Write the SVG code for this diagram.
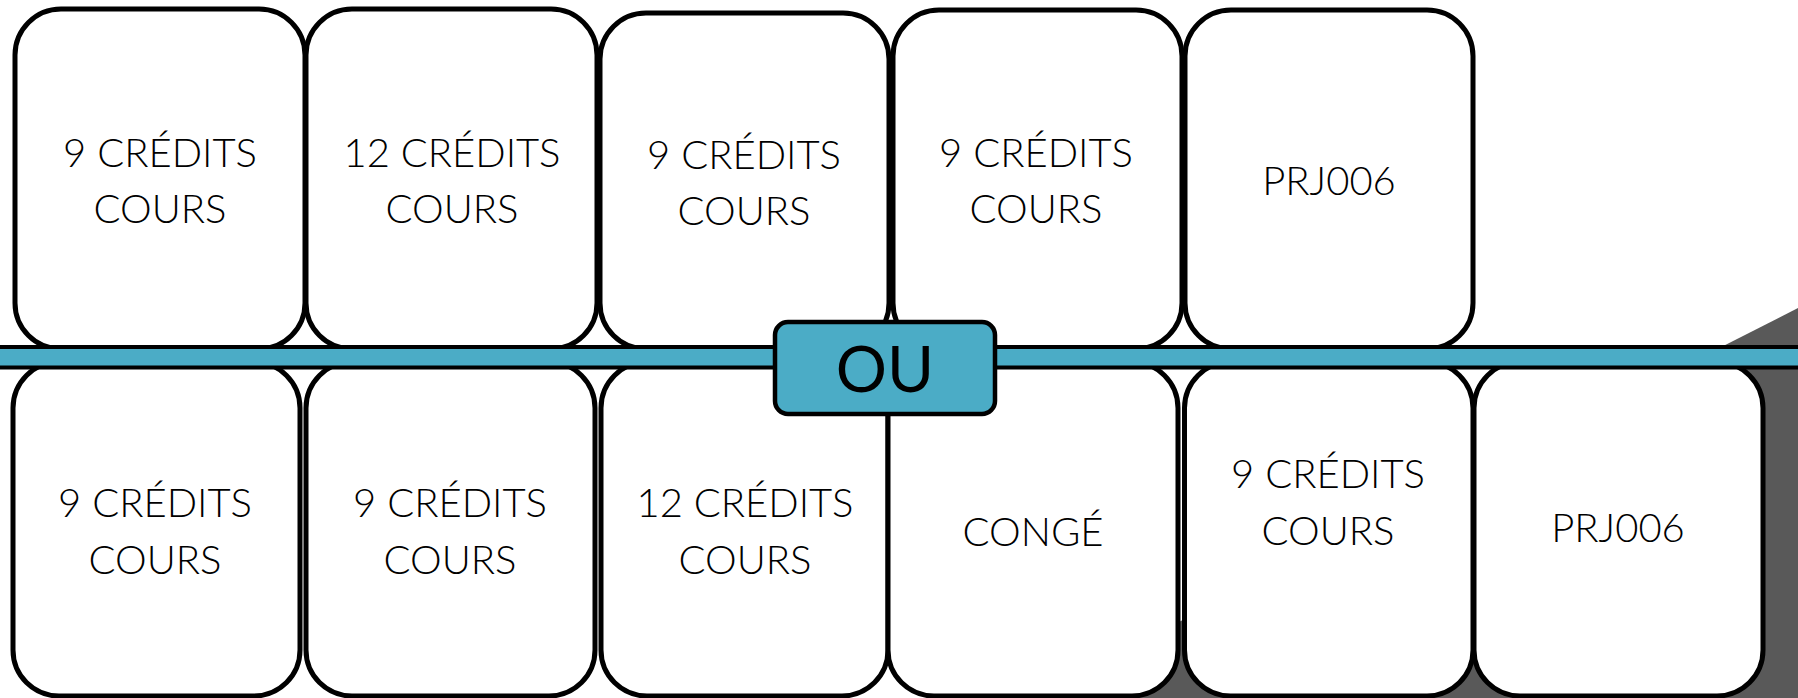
<svg xmlns="http://www.w3.org/2000/svg" width="1798" height="698" viewBox="0 0 1798 698">
  <style>
    .box { fill: #ffffff; stroke: #000000; stroke-width: 5; }
    .lbl { font-family: Lato, "Open Sans", "Liberation Sans", sans-serif; font-weight: 300; font-size: 40px; fill: #000000; text-anchor: middle; }
    .ou { font-family: Lato, "Open Sans", "Liberation Sans", sans-serif; font-weight: 400; font-size: 64px; fill: #000000; text-anchor: middle; }
  </style>
  <rect x="0" y="0" width="1798" height="698" fill="#ffffff"/>
  <polygon id="shade" points="1029,698 1798,308 1798,698" fill="#595959"/>

  <g id="top-1"><rect class="box" x="15" y="9" width="290" height="340" rx="46" ry="46"/>
    <text class="lbl" x="160" y="167">9 CRÉDITS</text><text class="lbl" x="160" y="223">COURS</text></g>
  <g id="top-2"><rect class="box" x="306" y="9" width="291" height="340" rx="46" ry="46"/>
    <text class="lbl" x="452" y="167">12 CRÉDITS</text><text class="lbl" x="452" y="223">COURS</text></g>
  <g id="top-3"><rect class="box" x="600" y="13" width="289" height="336" rx="46" ry="46"/>
    <text class="lbl" x="744" y="169">9 CRÉDITS</text><text class="lbl" x="744" y="225">COURS</text></g>
  <g id="top-4"><rect class="box" x="893" y="10" width="289" height="339" rx="46" ry="46"/>
    <text class="lbl" x="1036" y="167">9 CRÉDITS</text><text class="lbl" x="1036" y="223">COURS</text></g>
  <g id="top-5"><rect class="box" x="1185" y="10" width="288" height="339" rx="46" ry="46"/>
    <text class="lbl" x="1329" y="195">PRJ006</text></g>

  <g id="bottom-1"><rect class="box" x="13" y="362" width="287" height="334" rx="46" ry="46"/>
    <text class="lbl" x="155" y="517">9 CRÉDITS</text><text class="lbl" x="155" y="574">COURS</text></g>
  <g id="bottom-2"><rect class="box" x="306" y="362" width="289" height="334" rx="46" ry="46"/>
    <text class="lbl" x="450" y="517">9 CRÉDITS</text><text class="lbl" x="450" y="574">COURS</text></g>
  <g id="bottom-3"><rect class="box" x="601" y="362" width="287" height="334" rx="46" ry="46"/>
    <text class="lbl" x="745" y="517">12 CRÉDITS</text><text class="lbl" x="745" y="574">COURS</text></g>
  <g id="bottom-4"><rect class="box" x="888" y="362" width="290" height="334" rx="46" ry="46"/>
    <text class="lbl" x="1033" y="546">CONGÉ</text></g>
  <g id="bottom-5"><rect class="box" x="1184.5" y="362" width="288.5" height="334" rx="46" ry="46"/>
    <text class="lbl" x="1328" y="488">9 CRÉDITS</text><text class="lbl" x="1328" y="545">COURS</text></g>
  <g id="bottom-6"><rect class="box" x="1474" y="362" width="289" height="334" rx="46" ry="46"/>
    <text class="lbl" x="1618" y="542">PRJ006</text></g>

  <g id="connectors">
    <rect id="band" x="-10" y="347" width="1820" height="20.5" fill="#4BACC6" stroke="#000000" stroke-width="4"/>
  </g>

  <g id="ou"><rect x="775" y="322" width="220" height="92" rx="13" ry="13" fill="#4BACC6" stroke="#000000" stroke-width="4.5"/>
    <text class="ou" x="885" y="392">OU</text></g>
</svg>
